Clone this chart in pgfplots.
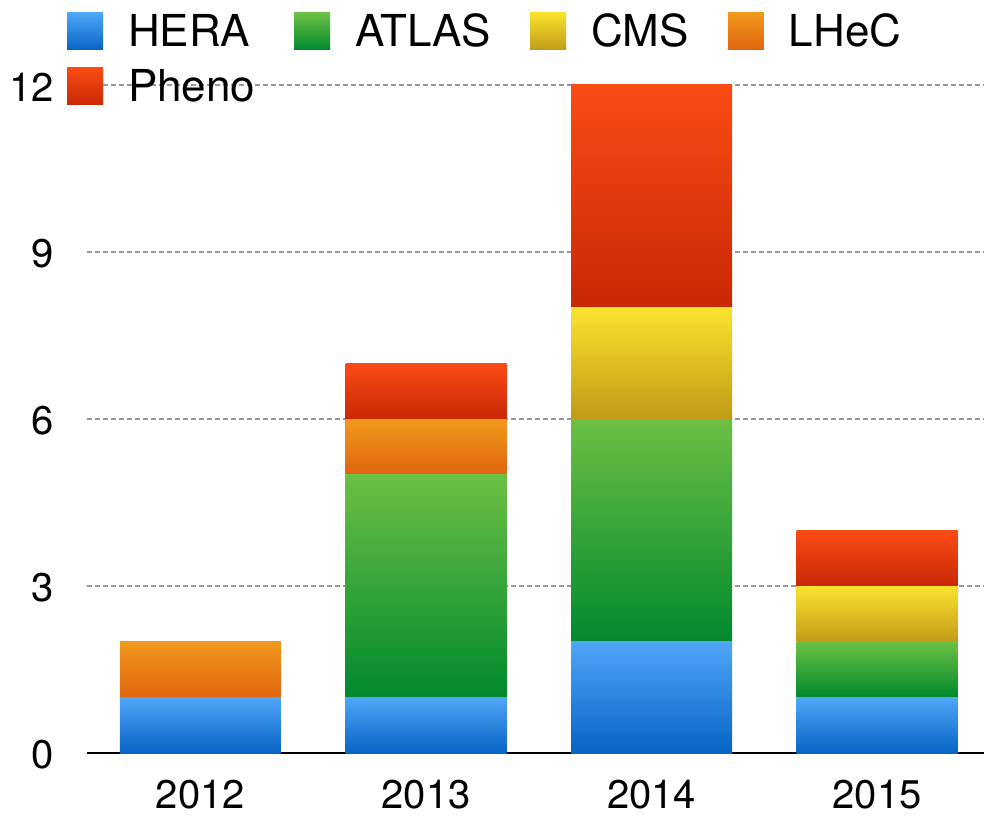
\documentclass[border=0pt]{standalone}
\usepackage{fontspec}
\setmainfont{TeX Gyre Heros}
\usepackage{pgfplots}
\pgfplotsset{compat=1.18}
\definecolor{heraT}{HTML}{50A6F7}
\definecolor{heraB}{HTML}{0764C6}
\definecolor{atlasT}{HTML}{6CC045}
\definecolor{atlasB}{HTML}{00892D}
\definecolor{cmsT}{HTML}{FAE32E}
\definecolor{cmsB}{HTML}{C29A18}
\definecolor{lhecT}{HTML}{F19A1C}
\definecolor{lhecB}{HTML}{DF640F}
\definecolor{phenoT}{HTML}{FA4B15}
\definecolor{phenoB}{HTML}{C92805}
\definecolor{gridgray}{HTML}{9A9A9A}
\pgfplotsset{
  lgsq/.style={legend image code/.code={\path[##1,draw=none] (0pt,-9.25pt) rectangle (18pt,9.25pt);}},
  base/.style={scale only axis, width=448.5pt, height=334pt,
    ybar stacked, bar width=80.5pt,
    xmin=-0.503, xmax=3.474, ymin=0, ymax=12},
  yr/.style={base, hide axis},
  hera/.style={draw=none, top color=heraT, bottom color=heraB},
  atlas/.style={draw=none, top color=atlasT, bottom color=atlasB},
  cms/.style={draw=none, top color=cmsT, bottom color=cmsB},
  lhec/.style={draw=none, top color=lhecT, bottom color=lhecB},
  pheno/.style={draw=none, top color=phenoT, bottom color=phenoB},
}
\begin{document}
\begin{tikzpicture}
% frame, grid, ticks and legend
\begin{axis}[name=ax, base,
  xtick={0,1,2,3}, xticklabels={2012,2013,2014,2015},
  ytick={0,3,6,9,12},
  ymajorgrids, grid style={dash pattern=on 2.5pt off 1.5pt, line width=0.9pt, color=gridgray},
  axis x line*=bottom, axis y line*=left,
  y axis line style={draw=none},
  x axis line style={-, line width=1pt, black},
  major tick length=0pt, tick style={draw=none},
  /pgf/number format/assume math mode=true,
  ticklabel style={font=\fontsize{20}{24}\selectfont, inner sep=0pt},
  yticklabel style={anchor=east, xshift=-16.5pt, yshift=-1pt},
  xticklabel style={anchor=north, yshift=-13.5pt},
  legend cell align=left,
  legend columns=4,
  legend style={draw=none, fill=none, at={(-0.0223,1.1078)}, anchor=north west,
    inner sep=0pt, outer sep=0pt, font=\fontsize{22}{26}\selectfont,
    nodes={inner sep=0pt},
    /tikz/every odd column/.append style={column sep=12.5pt},
    /tikz/every even column/.append style={column sep=19.5pt},
    row sep=9pt},
]
\addlegendimage{hera, lgsq}\addlegendentry{HERA}
\addlegendimage{atlas, lgsq}\addlegendentry{ATLAS}
\addlegendimage{cms, lgsq}\addlegendentry{CMS}
\addlegendimage{lhec, lgsq}\addlegendentry{LHeC}
\addlegendimage{pheno, lgsq}\addlegendentry{Pheno}
% 2012
\addplot[hera, forget plot] coordinates {(0,1)};
\addplot[lhec, forget plot] coordinates {(0,1)};
\end{axis}
% 2013
\begin{axis}[yr]
\addplot[hera] coordinates {(1,1)};
\addplot[atlas] coordinates {(1,4)};
\addplot[lhec] coordinates {(1,1)};
\addplot[pheno] coordinates {(1,1)};
\end{axis}
% 2014
\begin{axis}[yr]
\addplot[hera] coordinates {(2,2)};
\addplot[atlas] coordinates {(2,4)};
\addplot[cms] coordinates {(2,2)};
\addplot[pheno] coordinates {(2,4)};
\end{axis}
% 2015
\begin{axis}[yr]
\addplot[hera] coordinates {(3,1)};
\addplot[atlas] coordinates {(3,1)};
\addplot[cms] coordinates {(3,1)};
\addplot[pheno] coordinates {(3,1)};
\end{axis}
\pgfresetboundingbox
\path[use as bounding box] ([xshift=-43.5pt,yshift=-31pt]ax.south west) rectangle ([yshift=42.5pt]ax.north east);
\end{tikzpicture}
\end{document}
